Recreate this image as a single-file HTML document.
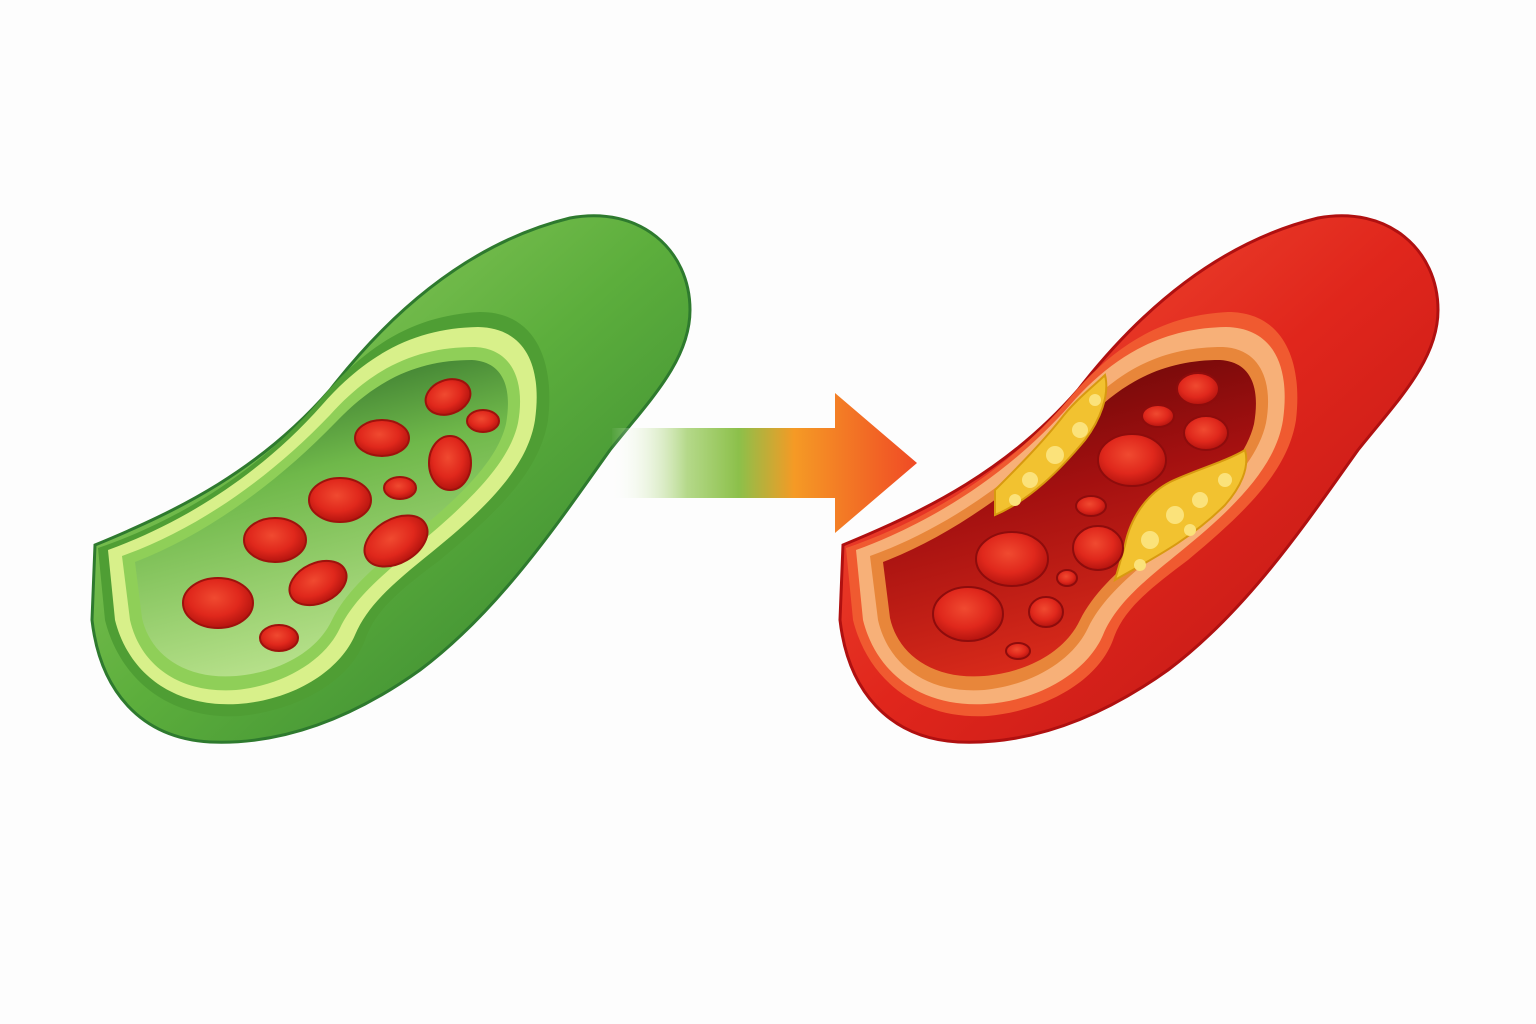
<!DOCTYPE html>
<html><head><meta charset="utf-8"><style>html,body{margin:0;padding:0;background:#fdfdfd;width:1536px;height:1024px;overflow:hidden}</style></head>
<body>
<svg width="1536" height="1024" viewBox="0 0 1536 1024" xmlns="http://www.w3.org/2000/svg">
<defs>
<linearGradient id="gBody" x1="0" y1="0" x2="1" y2="1">
<stop offset="0" stop-color="#9fd46a"/><stop offset="0.5" stop-color="#5cae3c"/><stop offset="1" stop-color="#2e7d2e"/></linearGradient>
<linearGradient id="gLumen" x1="0" y1="0" x2="0.3" y2="1">
<stop offset="0" stop-color="#1f5a22"/><stop offset="0.45" stop-color="#6fb84a"/><stop offset="1" stop-color="#b6e08a"/></linearGradient>
<linearGradient id="rBody" x1="0" y1="0" x2="1" y2="1">
<stop offset="0" stop-color="#f5583a"/><stop offset="0.5" stop-color="#e0261c"/><stop offset="1" stop-color="#b81414"/></linearGradient>
<linearGradient id="rLumen" x1="0" y1="0" x2="0.3" y2="1">
<stop offset="0" stop-color="#5a0606"/><stop offset="0.5" stop-color="#a31010"/><stop offset="1" stop-color="#d82a1a"/></linearGradient>
<linearGradient id="arr" x1="610" y1="0" x2="917" y2="0" gradientUnits="userSpaceOnUse">
<stop offset="0" stop-color="#ffffff" stop-opacity="0"/><stop offset="0.25" stop-color="#b5d98a"/><stop offset="0.42" stop-color="#8cc04a"/><stop offset="0.6" stop-color="#f59a25"/><stop offset="1" stop-color="#f04a25"/></linearGradient>
<radialGradient id="cell" cx="0.45" cy="0.4" r="0.6"><stop offset="0" stop-color="#f04a30"/><stop offset="0.6" stop-color="#e0281c"/><stop offset="1" stop-color="#b5140f"/></radialGradient>
</defs>

<g>
<path d="M95,545 C180,510 260,470 330,390 C400,300 480,240 570,218 C640,205 690,250 690,310 C690,360 650,400 610,450 C560,520 500,610 420,670 C350,720 280,745 210,742 C140,738 100,690 92,620 Z" fill="url(#gBody)" stroke="#2e7a2e" stroke-width="3"/>
<path d="M98,548 C180,520 260,470 320,400 C370,340 420,315 480,312 C535,312 555,360 548,420 C540,470 500,510 440,560 C400,590 375,610 365,640 C350,680 300,710 240,716 C170,720 120,680 105,620 Z" fill="#4f9e34"/>
<path d="M108,550 C185,522 262,473 322,405 C370,350 420,328 478,327 C528,328 542,370 535,420 C528,465 490,505 432,552 C395,582 368,604 355,635 C340,670 295,700 238,704 C172,708 128,672 115,620 Z" fill="#d8f08a"/>
<path d="M122,556 C195,530 268,480 330,415 C375,365 420,347 475,347 C515,349 525,385 518,423 C510,460 475,497 420,543 C383,575 355,597 340,628 C325,660 285,685 236,690 C178,694 140,664 130,620 Z" fill="#8fcf58"/>
<path d="M135,562 C205,535 275,485 336,422 C378,378 420,360 472,360 C505,362 512,390 506,424 C498,458 466,492 412,536 C375,566 347,590 332,620 C318,650 282,672 236,676 C184,680 150,654 142,618 Z" fill="url(#gLumen)"/>
</g>
<g fill="url(#cell)" stroke="#9e120c" stroke-width="2">
<ellipse cx="218" cy="603" rx="35" ry="25"/><ellipse cx="275" cy="540" rx="31" ry="22"/>
<ellipse cx="340" cy="500" rx="31" ry="22"/><ellipse cx="382" cy="438" rx="27" ry="18"/>
<ellipse cx="448" cy="397" rx="23" ry="17" transform="rotate(-20 448 397)"/><ellipse cx="483" cy="421" rx="16" ry="11"/>
<ellipse cx="450" cy="463" rx="21" ry="27"/><ellipse cx="400" cy="488" rx="16" ry="11"/>
<ellipse cx="396" cy="541" rx="34" ry="22" transform="rotate(-30 396 541)"/><ellipse cx="318" cy="583" rx="30" ry="20" transform="rotate(-25 318 583)"/>
<ellipse cx="279" cy="638" rx="19" ry="13"/>
</g>

<path d="M612,428 L835,428 L835,393 L917,463 L835,533 L835,498 L612,498 Z" fill="url(#arr)"/>

<g transform="translate(748,0)">
<path d="M95,545 C180,510 260,470 330,390 C400,300 480,240 570,218 C640,205 690,250 690,310 C690,360 650,400 610,450 C560,520 500,610 420,670 C350,720 280,745 210,742 C140,738 100,690 92,620 Z" fill="url(#rBody)" stroke="#b01010" stroke-width="3"/>
<path d="M98,548 C180,520 260,470 320,400 C370,340 420,315 480,312 C535,312 555,360 548,420 C540,470 500,510 440,560 C400,590 375,610 365,640 C350,680 300,710 240,716 C170,720 120,680 105,620 Z" fill="#f05a30"/>
<path d="M108,550 C185,522 262,473 322,405 C370,350 420,328 478,327 C528,328 542,370 535,420 C528,465 490,505 432,552 C395,582 368,604 355,635 C340,670 295,700 238,704 C172,708 128,672 115,620 Z" fill="#f7b078"/>
<path d="M122,556 C195,530 268,480 330,415 C375,365 420,347 475,347 C515,349 525,385 518,423 C510,460 475,497 420,543 C383,575 355,597 340,628 C325,660 285,685 236,690 C178,694 140,664 130,620 Z" fill="#e8863a"/>
<path d="M135,562 C205,535 275,485 336,422 C378,378 420,360 472,360 C505,362 512,390 506,424 C498,458 466,492 412,536 C375,566 347,590 332,620 C318,650 282,672 236,676 C184,680 150,654 142,618 Z" fill="url(#rLumen)"/>
</g>
<g fill="#f2c230" stroke="#d89a10" stroke-width="2">
<path d="M995,515 C1030,500 1060,470 1085,440 C1100,420 1110,395 1105,375 C1095,385 1075,400 1060,420 C1040,445 1015,470 995,490 Z"/>
<path d="M1115,580 C1150,560 1190,540 1225,505 C1240,488 1250,468 1245,450 C1225,462 1195,470 1170,482 C1145,495 1130,520 1125,545 Z"/>
</g>
<g fill="#fbe27a">
<circle cx="1030" cy="480" r="8"/><circle cx="1055" cy="455" r="9"/><circle cx="1080" cy="430" r="8"/><circle cx="1095" cy="400" r="6"/><circle cx="1015" cy="500" r="6"/>
<circle cx="1150" cy="540" r="9"/><circle cx="1175" cy="515" r="9"/><circle cx="1200" cy="500" r="8"/><circle cx="1225" cy="480" r="7"/><circle cx="1140" cy="565" r="6"/><circle cx="1190" cy="530" r="6"/>
</g>
<g fill="url(#cell)" stroke="#8e0c0c" stroke-width="2">
<ellipse cx="968" cy="614" rx="35" ry="27"/><ellipse cx="1012" cy="559" rx="36" ry="27"/>
<ellipse cx="1132" cy="460" rx="34" ry="26"/><ellipse cx="1098" cy="548" rx="25" ry="22"/>
<ellipse cx="1198" cy="389" rx="21" ry="16"/><ellipse cx="1206" cy="433" rx="22" ry="17"/>
<ellipse cx="1158" cy="416" rx="16" ry="11"/><ellipse cx="1091" cy="506" rx="15" ry="10"/>
<ellipse cx="1046" cy="612" rx="17" ry="15"/><ellipse cx="1067" cy="578" rx="10" ry="8"/>
<ellipse cx="1018" cy="651" rx="12" ry="8"/>
</g>
</svg>
</body></html>
